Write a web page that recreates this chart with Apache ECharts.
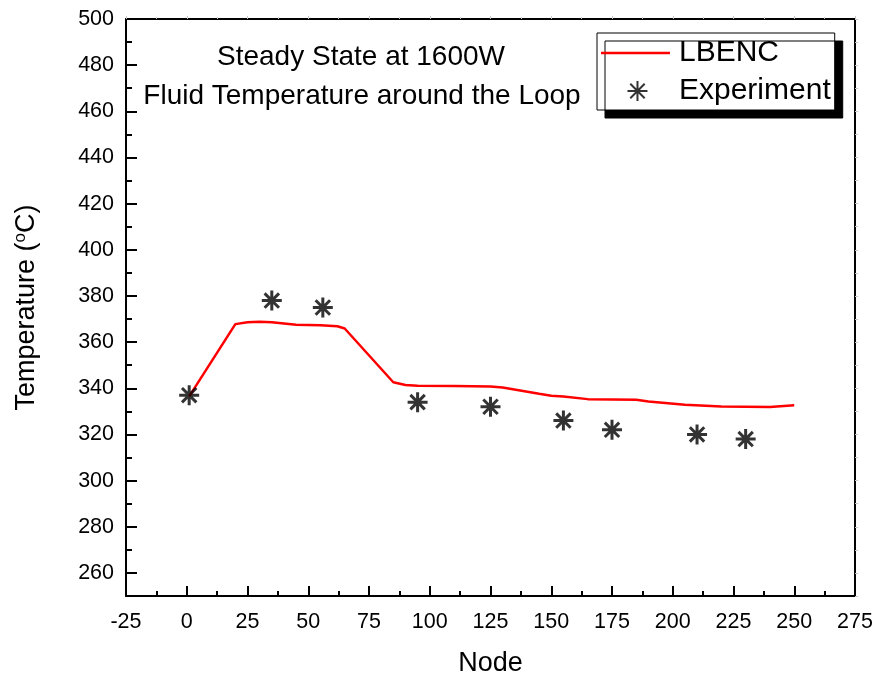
<!DOCTYPE html>
<html>
<head>
<meta charset="utf-8">
<script src="https://cdn.jsdelivr.net/npm/echarts@6/dist/echarts.min.js"></script>
<style>
  html, body { margin: 0; padding: 0; background: #fff; }
  #chart { width: 876px; height: 676px; }
</style>
</head>
<body>
<div id="chart"></div>
<script>
// LBENC simulated fluid temperature along the loop (node, °C)
const modelNodes = [1, 20, 25, 30, 35, 45, 55, 62, 65, 85, 90, 95, 110, 125, 130, 145, 150, 155, 165, 185, 190, 205, 220, 240, 250];
const modelTemps = [336.5, 367.8, 368.6, 368.8, 368.6, 367.5, 367.3, 366.9, 365.9, 342.6, 341.4, 341.1, 341.0, 340.8, 340.3, 337.6, 336.8, 336.4, 335.3, 335.0, 334.3, 332.9, 332.1, 331.9, 332.6];

// Measured thermocouple temperatures
const expNodes = [1, 35, 56, 95, 125, 155, 175, 210, 230];
const expTemps = [337, 378, 375, 334, 332, 326, 322, 320, 318];

// Axis ticks
const yMajorTicks = [260, 280, 300, 320, 340, 360, 380, 400, 420, 440, 460, 480, 500];
const yMinorTicks = [270, 290, 310, 330, 350, 370, 390, 410, 430, 450, 470, 490];

const titleLines = ['Steady State at 1600W', 'Fluid Temperature around the Loop'];

const FONT = '"Liberation Sans", Arial, Helvetica, sans-serif';
const asterisk = 'path://M0,-1L0,1M-1,0L1,0M-0.72,-0.72L0.72,0.72M-0.72,0.72L0.72,-0.72';
// horizontal bar on the left of a 73x20 box, used as the line's legend key
const lineKey = 'path://M0,0L0,0.01M0,8.75L69,8.75L69,11.25L0,11.25ZM73,20L73,20.01';

const chart = echarts.init(document.getElementById('chart'), null, { renderer: 'canvas' });

const pair = (xs, ys) => xs.map((x, i) => [x, ys[i]]);

chart.setOption({
  animation: false,
  backgroundColor: '#fff',
  textStyle: { fontFamily: FONT },
  grid: { left: 126, top: 19, right: 21, bottom: 80, containLabel: false, outerBoundsMode: 'none' },
  graphic: titleLines.map((t, i) => ({
    type: 'text',
    style: {
      text: t,
      x: [361, 362][i],
      y: [57, 96][i],
      textAlign: 'center',
      textVerticalAlign: 'middle',
      font: '28px ' + FONT,
      fill: '#000'
    },
    z: 10
  })),
  legend: {
    orient: 'vertical',
    left: 597,
    top: 33,
    padding: [5, 4, 4, 4],
    itemGap: 8,
    itemWidth: 73,
    itemHeight: 20,
    backgroundColor: '#fff',
    borderColor: '#000',
    borderWidth: 1,
    borderRadius: 0,
    shadowColor: '#000',
    shadowBlur: 0,
    shadowOffsetX: 8,
    shadowOffsetY: 8,
    textStyle: { fontSize: 30, color: '#000', fontFamily: FONT },
    data: [
      { name: 'LBENC', icon: lineKey, itemStyle: { color: '#ff0000', borderWidth: 0 } },
      { name: 'Experiment' }
    ]
  },
  xAxis: [{
    type: 'value',
    min: -25,
    max: 275,
    interval: 25,
    name: 'Node',
    nameLocation: 'middle',
    nameGap: 54,
    nameTextStyle: { fontSize: 27, color: '#000', fontFamily: FONT },
    axisLine: { show: true, onZero: false, lineStyle: { color: '#000', width: 2 } },
    axisTick: { show: true, inside: true, length: 10, lineStyle: { color: '#000', width: 2 } },
    minorTick: { show: true, splitNumber: 2, length: 5, lineStyle: { color: '#000', width: 2 } },
    axisLabel: { fontSize: 21.5, color: '#000', margin: 15, showMinLabel: true, showMaxLabel: true, fontFamily: FONT },
    splitLine: { show: false }
  }, {
    type: 'value',
    position: 'top',
    min: -25,
    max: 275,
    interval: 25,
    axisLine: { show: true, onZero: false, lineStyle: { color: '#000', width: 2 } },
    axisTick: { show: true, inside: false, length: 3, lineStyle: { color: '#c8c8c8', width: 1 } },
    minorTick: { show: true, splitNumber: 2, length: 2, lineStyle: { color: '#c8c8c8', width: 1 } },
    axisLabel: { show: false },
    splitLine: { show: false }
  }],
  yAxis: [{
    type: 'value',
    min: 250,
    max: 500,
    interval: 10,
    name: 'Temperature ({sup|o}C)',
    nameLocation: 'middle',
    nameGap: 84,
    nameRotate: 90,
    nameTextStyle: {
      fontSize: 27, color: '#000', fontFamily: FONT, lineHeight: 30,
      rich: { sup: { fontSize: 17, verticalAlign: 'top', lineHeight: 30, color: '#000', fontFamily: FONT } }
    },
    axisLine: { show: true, onZero: false, lineStyle: { color: '#000', width: 2 } },
    axisTick: { show: true, inside: true, length: 11, customValues: yMajorTicks, lineStyle: { color: '#000', width: 2 } },
    axisLabel: { fontSize: 21.5, color: '#000', margin: 12, customValues: yMajorTicks, fontFamily: FONT },
    splitLine: { show: false }
  }, {
    type: 'value',
    position: 'left',
    min: 250,
    max: 500,
    interval: 10,
    axisLine: { show: false, onZero: false },
    axisTick: { show: true, inside: true, length: 6, customValues: yMinorTicks, lineStyle: { color: '#000', width: 2 } },
    axisLabel: { show: false },
    splitLine: { show: false }
  }, {
    type: 'value',
    position: 'right',
    min: 250,
    max: 500,
    interval: 10,
    axisLine: { show: true, onZero: false, lineStyle: { color: '#000', width: 2 } },
    axisTick: { show: true, inside: false, length: 3, lineStyle: { color: '#c8c8c8', width: 1 } },
    axisLabel: { show: false },
    splitLine: { show: false }
  }],
  series: [{
    name: 'LBENC',
    type: 'line',
    xAxisIndex: 0,
    yAxisIndex: 0,
    data: pair(modelNodes, modelTemps),
    symbol: 'none',
    smooth: false,
    lineStyle: { color: '#ff0000', width: 2.5 },
    itemStyle: { color: '#ff0000' },
    z: 3
  }, {
    name: 'Experiment',
    type: 'scatter',
    xAxisIndex: 0,
    yAxisIndex: 0,
    data: pair(expNodes, expTemps),
    symbol: asterisk,
    symbolSize: 20,
    symbolKeepAspect: true,
    itemStyle: { color: '#000', borderColor: '#000', borderWidth: 3 },
    z: 4
  }]
});
</script>
</body>
</html>
